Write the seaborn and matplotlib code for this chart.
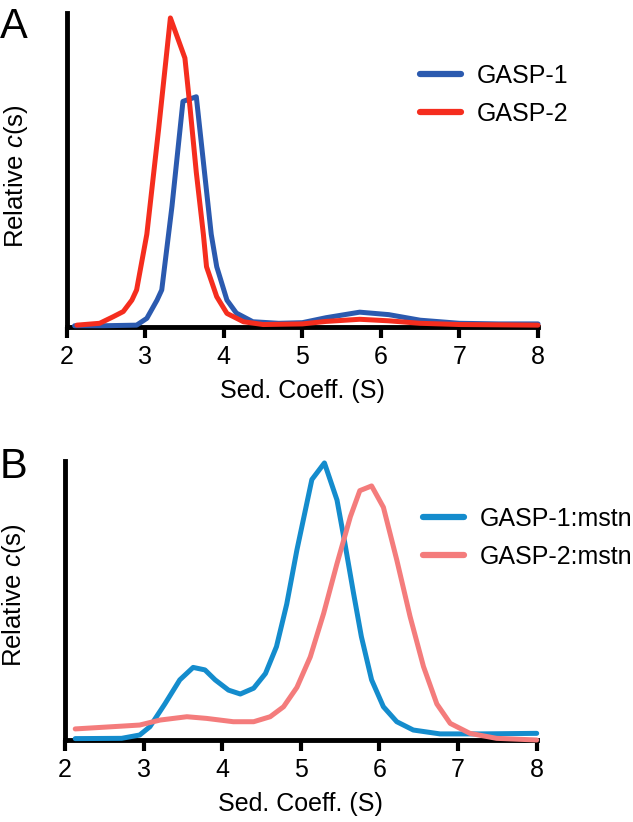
import pandas as pd
import numpy as np
import matplotlib
matplotlib.use('Agg')
import matplotlib.pyplot as plt
import seaborn as sns

# panel A: free proteins
g1_x = [2.1, 2.46, 2.89, 3.02, 3.15, 3.21, 3.34, 3.48, 3.65, 3.84, 3.91, 4.04, 4.16, 4.37,
        4.7, 5.0, 5.3, 5.73, 6.1, 6.5, 7.0, 7.5, 8.0]
g1_c = [0.004, 0.004, 0.006, 0.028, 0.087, 0.12, 0.39, 0.73, 0.745, 0.30, 0.195, 0.087, 0.045, 0.017,
        0.012, 0.014, 0.03, 0.048, 0.04, 0.022, 0.012, 0.01, 0.01]
g2_x = [2.13, 2.42, 2.59, 2.72, 2.83, 2.89, 3.02, 3.17, 3.32, 3.505, 3.57, 3.65, 3.74, 3.78, 3.91,
        4.04, 4.25, 4.5, 5.0, 5.3, 5.73, 6.1, 6.5, 7.0, 8.0]
g2_c = [0.006, 0.012, 0.033, 0.05, 0.087, 0.12, 0.30, 0.64, 1.0, 0.87, 0.71, 0.50, 0.30, 0.195, 0.098,
        0.044, 0.017, 0.008, 0.01, 0.018, 0.025, 0.02, 0.012, 0.008, 0.006]

# panel B: complexes with myostatin
g1m_x = [2.13, 2.72, 2.95, 3.08, 3.27, 3.46, 3.63, 3.78, 3.91, 4.08, 4.23, 4.40, 4.55, 4.69, 4.82,
         4.95, 5.14, 5.30, 5.46, 5.56, 5.67, 5.77, 5.90, 6.05, 6.22, 6.43, 6.77, 7.28, 8.0]
g1m_c = [0.005, 0.006, 0.018, 0.048, 0.13, 0.217, 0.262, 0.253, 0.217, 0.18, 0.166, 0.187, 0.24, 0.337, 0.49,
         0.686, 0.94, 1.0, 0.866, 0.71, 0.53, 0.373, 0.217, 0.12, 0.066, 0.036, 0.022, 0.022, 0.024]
g2m_x = [2.13, 2.72, 2.95, 3.21, 3.55, 3.80, 4.14, 4.40, 4.61, 4.78, 4.95, 5.12, 5.29, 5.46, 5.63,
         5.75, 5.90, 6.05, 6.22, 6.39, 6.56, 6.73, 6.90, 7.15, 7.49, 8.0]
g2m_c = [0.04, 0.05, 0.054, 0.072, 0.084, 0.078, 0.066, 0.066, 0.084, 0.12, 0.19, 0.30, 0.457, 0.637, 0.806,
         0.90, 0.917, 0.84, 0.65, 0.445, 0.265, 0.13, 0.06, 0.024, 0.006, 0.0]

xticks = [2, 3, 4, 5, 6, 7, 8]

sns.set_style('ticks')
plt.rcParams['font.family'] = ['Liberation Sans', 'DejaVu Sans']
plt.rcParams['mathtext.fontset'] = 'custom'
plt.rcParams['mathtext.rm'] = 'Liberation Sans'
plt.rcParams['mathtext.it'] = 'Liberation Sans:italic'
plt.rcParams['text.color'] = 'black'
plt.rcParams['axes.labelcolor'] = 'black'

dfA = pd.concat([pd.DataFrame({'s': g1_x, 'c': g1_c, 'sample': 'GASP-1'}),
                 pd.DataFrame({'s': g2_x, 'c': g2_c, 'sample': 'GASP-2'})])
dfB = pd.concat([pd.DataFrame({'s': g1m_x, 'c': g1m_c, 'sample': 'GASP-1:mstn'}),
                 pd.DataFrame({'s': g2m_x, 'c': g2m_c, 'sample': 'GASP-2:mstn'})])

fig = plt.figure(figsize=(6.33, 8.22), dpi=100)
axA = fig.add_axes([66.7/633, 1-327/822, 471.3/633, 314/822])
axB = fig.add_axes([65/633, 1-740/822, 471.7/633, 279/822])


def style_panel(ax, df, colors, ytop, ylab_y, leg_xy):
    sns.lineplot(data=df, x='s', y='c', hue='sample', palette=colors, estimator=None,
                 sort=False, lw=3.6, ax=ax)
    for ln in ax.get_lines():
        ln.set_clip_on(False)
        ln.set_zorder(3)
        ln.set_solid_joinstyle('round')
    ax.set_xlim(2, 8)
    ax.set_ylim(0, ytop)
    ax.set_xticks(xticks)
    ax.set_yticks([])
    ax.tick_params(axis='x', direction='out', length=8, width=3, pad=5, labelsize=18,
                   colors='black')
    for side in ['top', 'right']:
        ax.spines[side].set_visible(False)
    for side in ['left', 'bottom']:
        ax.spines[side].set_linewidth(3.5)
        ax.spines[side].set_color('black')
    ax.set_xlabel('Sed. Coeff. (S)', fontsize=18, labelpad=7)
    ax.set_ylabel(r'Relative $\it{c}$(s)', fontsize=18.5)
    ax.yaxis.set_label_coords(-0.078, ylab_y)
    handles, labels = ax.get_legend_handles_labels()
    leg = ax.legend(handles, labels, loc='upper left', bbox_to_anchor=leg_xy,
                    bbox_transform=fig.transFigure, frameon=False, fontsize=18,
                    borderpad=0, borderaxespad=0, handlelength=1.64, handletextpad=0.64,
                    labelspacing=0.56)
    for h in leg.legend_handles:
        h.set_linewidth(4.5)
        h.set_solid_capstyle('round')


style_panel(axA, dfA, ['#2b5aaf', '#f52d1e'], 1.016, 0.48, (420/633, 1-64/822))
style_panel(axB, dfB, ['#148ccd', '#f47c7c'], 1.007, 0.52, (423/633, 1-507/822))

fig.text(0.0, 1-38/822, 'A', fontsize=30, va='baseline', ha='left')
fig.text(0.0, 1-478/822, 'B', fontsize=30, va='baseline', ha='left')

fig.savefig('out.png', dpi=100)
